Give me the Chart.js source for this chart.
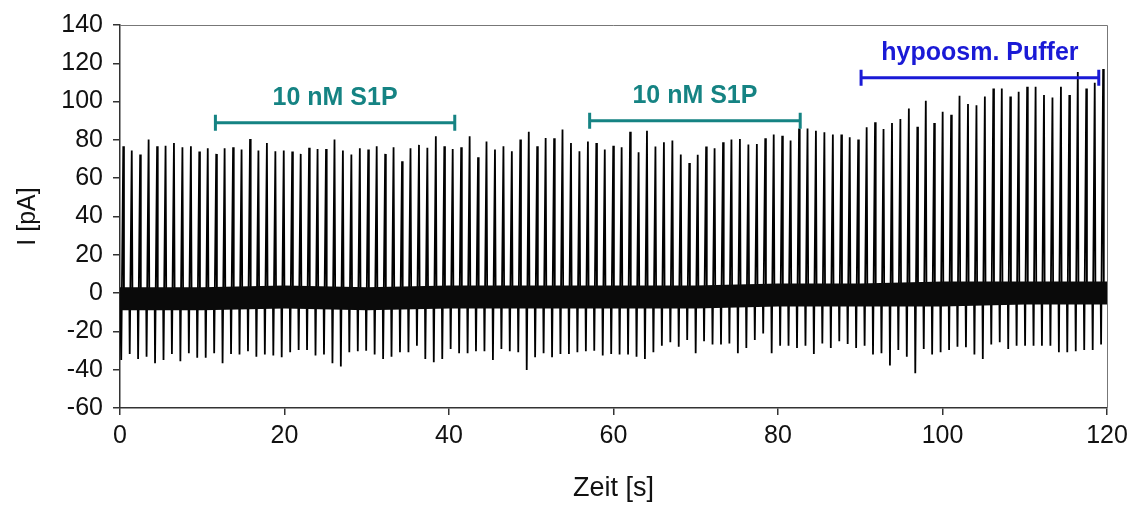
<!DOCTYPE html>
<html>
<head>
<meta charset="utf-8">
<title>I [pA] / Zeit [s]</title>
<script src="https://cdn.jsdelivr.net/npm/chart.js@4.4.0/dist/chart.umd.min.js"></script>
<style>
  html, body { margin: 0; padding: 0; background: #fff; }
</style>
</head>
<body>
<canvas id="spikeChart" width="1138" height="506"></canvas>
<script>
// Zeitpunkte der Spikes (s), Spitzenwert und Minimum (pA)
var spikeTimes = [
  0.40, 1.43, 2.45, 3.48, 4.51, 5.54, 6.56, 7.59, 8.62, 9.64,
  10.67, 11.70, 12.72, 13.75, 14.78, 15.81, 16.83, 17.86, 18.89, 19.91,
  20.94, 21.97, 22.99, 24.02, 25.05, 26.08, 27.10, 28.13, 29.16, 30.18,
  31.21, 32.24, 33.26, 34.29, 35.32, 36.35, 37.37, 38.40, 39.43, 40.45,
  41.48, 42.51, 43.53, 44.56, 45.59, 46.62, 47.64, 48.67, 49.70, 50.72,
  51.75, 52.78, 53.80, 54.83, 55.86, 56.89, 57.91, 58.94, 59.97, 60.99,
  62.02, 63.05, 64.07, 65.10, 66.13, 67.16, 68.18, 69.21, 70.24, 71.26,
  72.29, 73.32, 74.34, 75.37, 76.40, 77.43, 78.45, 79.48, 80.51, 81.53,
  82.56, 83.59, 84.61, 85.64, 86.67, 87.70, 88.72, 89.75, 90.78, 91.80,
  92.83, 93.86, 94.88, 95.91, 96.94, 97.97, 98.99, 100.02, 101.05, 102.07,
  103.10, 104.13, 105.15, 106.18, 107.21, 108.24, 109.26, 110.29, 111.32, 112.34,
  113.37, 114.40, 115.42, 116.45, 117.48, 118.51, 119.53
];
var spikePeaks = [
  76.7, 74.5, 72.4, 80.2, 76.7, 77, 78.4, 76.2, 76.7, 74,
  75.7, 72.7, 75.7, 76.2, 75, 80.5, 74.5, 78.4, 74.1, 74.5,
  74, 72.7, 75.9, 75.3, 75.3, 80.2, 74.5, 72.4, 75.7, 75,
  76.7, 72.7, 76.2, 68.8, 75.7, 77.4, 75.9, 81.9, 76.7, 75.3,
  76.2, 81.9, 71, 79.1, 75, 76.7, 74.1, 80.2, 84.3, 76.7,
  81, 80.9, 85.4, 78.4, 74.1, 79.1, 78.4, 75, 77, 76.2,
  84.3, 73.6, 84.8, 76.5, 78.8, 79.7, 72.4, 67.9, 72.2, 76.5,
  75.7, 78.8, 80.2, 80.5, 77.6, 77.9, 80.9, 82.8, 82.2, 79.7,
  86, 86, 84.8, 84, 82.8, 82.8, 81.4, 80.2, 86.6, 89.2,
  85.7, 88.8, 90.9, 96.4, 86.9, 100.4, 88.8, 94.7, 93.1, 103,
  98.7, 98.1, 102.6, 106.8, 106.8, 102.6, 105.2, 107.8, 107.8, 103.5,
  102.1, 107.8, 103.5, 115.4, 106.9, 109.9, 117
];
var spikeTroughs = [
  -34.9, -31.8, -34.4, -33.2, -36.6, -34.9, -31.8, -35.6, -31.4, -33.8,
  -33.8, -31.4, -36.6, -31.8, -32.1, -30.4, -33.2, -32.1, -32.6, -33.5,
  -30.9, -29.7, -29.7, -32.6, -32.1, -36.6, -38.3, -30.9, -30.4, -30.1,
  -32.1, -34.4, -33.2, -30.9, -30.9, -27.5, -34.4, -36.1, -34.4, -29.2,
  -31.4, -31.4, -30.4, -30.4, -34.9, -29.2, -30.4, -30.9, -40.1, -33.5,
  -31.4, -33.5, -31.8, -31.8, -30.9, -30.4, -30.1, -32.6, -31.8, -32.1,
  -32.1, -33.2, -34.4, -30.9, -27.5, -25.7, -28, -24.5, -31.4, -25.2,
  -26.9, -26.9, -26.3, -31.4, -28.7, -24.5, -21.1, -31.4, -27.5, -27.5,
  -28.7, -27.5, -31.8, -26.3, -28.7, -25.2, -26.6, -28.7, -27.5, -32.1,
  -31.4, -37.8, -29.7, -33.2, -41.8, -29.2, -32.1, -30.9, -29.7, -28,
  -28.3, -32.1, -34.4, -26.9, -25.7, -29.2, -27.5, -27.5, -27.5, -27.5,
  -27.5, -30.9, -30.9, -30.4, -29.7, -29.7, -26.9
];

// Rauschband um die Nulllinie (obere / untere Grenze)
var bandTimes = [0, 10, 20, 30, 40, 50, 60, 70, 80, 90, 100, 110, 120];
var bandUpper = [3, 3, 4, 3, 4, 4, 4, 4, 5, 5, 6, 6, 6];
var bandLower = [-9, -9, -8, -9, -8, -8, -8, -8, -7, -7, -7, -6, -6];

// Balken fuer die Applikationen
var barLabels = ['10 nM S1P', '10 nM S1P', 'hypoosm. Puffer'];
var barStart = [11.6, 57.1, 90.1];
var barEnd = [40.7, 82.7, 119.0];
var barLevel = [89, 90, 112.5];
var barColors = ['#158383', '#158383', '#1a1ad6'];

var FONT = "'Liberation Sans', Arial, sans-serif";

//----------------------------------------------------------------------
// Spur zusammenbauen: Minimum -> Spitze -> zurueck auf Null
var trace = [{x: 0, y: 0}];
for (var i = 0; i < spikeTimes.length; i++) {
  var t = spikeTimes[i];
  trace.push({x: t - 0.3, y: 0});
  trace.push({x: t - 0.25, y: spikeTroughs[i]});
  trace.push({x: t, y: spikePeaks[i]});
  trace.push({x: t + 0.08, y: 0});
}
trace.push({x: 120, y: 0});

var upper = [], lower = [];
for (var j = 0; j < bandTimes.length; j++) {
  upper.push({x: bandTimes[j], y: bandUpper[j]});
  lower.push({x: bandTimes[j], y: bandLower[j]});
}

// Rahmen oben und rechts
var framePlugin = {
  id: 'frame',
  afterDraw: function(chart) {
    var a = chart.chartArea, ctx = chart.ctx;
    ctx.save();
    ctx.strokeStyle = '#777';
    ctx.lineWidth = 1;
    ctx.beginPath();
    ctx.moveTo(a.left, a.top + 0.5);
    ctx.lineTo(a.right + 0.5, a.top + 0.5);
    ctx.lineTo(a.right + 0.5, a.bottom);
    ctx.stroke();
    ctx.restore();
  }
};

// Balken mit Endstrichen und Beschriftung
var barPlugin = {
  id: 'bars',
  afterDatasetsDraw: function(chart) {
    var ctx = chart.ctx, xs = chart.scales.x, ys = chart.scales.y;
    ctx.save();
    for (var k = 0; k < barLabels.length; k++) {
      var x0 = xs.getPixelForValue(barStart[k]);
      var x1 = xs.getPixelForValue(barEnd[k]);
      var y = ys.getPixelForValue(barLevel[k]);
      ctx.strokeStyle = barColors[k];
      ctx.lineWidth = 3;
      ctx.beginPath();
      ctx.moveTo(x0, y); ctx.lineTo(x1, y);
      ctx.moveTo(x0, y - 8); ctx.lineTo(x0, y + 8);
      ctx.moveTo(x1, y - 8); ctx.lineTo(x1, y + 8);
      ctx.stroke();
      ctx.fillStyle = barColors[k];
      ctx.font = 'bold 25px ' + FONT;
      ctx.textAlign = 'center';
      ctx.textBaseline = 'middle';
      ctx.fillText(barLabels[k], (x0 + x1) / 2, y - 25);
    }
    ctx.restore();
  }
};

var ctx = document.getElementById('spikeChart').getContext('2d');
var spikeChart = new Chart(ctx, {
  type: 'line',
  data: {
    datasets: [
      {
        data: upper,
        borderWidth: 0,
        pointRadius: 0,
        backgroundColor: '#0a0a0a',
        fill: '+1'
      },
      {
        data: lower,
        borderWidth: 0,
        pointRadius: 0,
        fill: false
      },
      {
        data: trace,
        borderColor: '#000',
        borderWidth: 1.8,
        pointRadius: 0,
        tension: 0,
        fill: false
      }
    ]
  },
  options: {
    responsive: false,
    animation: false,
    layout: { padding: { left: 0, right: 31, top: 22, bottom: 0 } },
    plugins: {
      legend: { display: false },
      tooltip: { enabled: false }
    },
    scales: {
      x: {
        type: 'linear',
        min: 0,
        max: 120,
        afterFit: function(scale) { scale.height = 98; },
        ticks: { stepSize: 20, color: '#111', padding: 6, font: { family: FONT, size: 25 } },
        grid: { drawOnChartArea: false, drawTicks: true, tickLength: 7, color: '#333', lineWidth: 1.5 },
        border: { display: true, color: '#333', width: 1.5 },
        title: { display: true, text: 'Zeit [s]', color: '#111', padding: { bottom: 1 }, font: { family: FONT, size: 27 } }
      },
      y: {
        min: -60,
        max: 140,
        afterFit: function(scale) { scale.width = 120; },
        ticks: { stepSize: 20, color: '#111', padding: 10, font: { family: FONT, size: 25 } },
        grid: { drawOnChartArea: false, drawTicks: true, tickLength: 7, color: '#333', lineWidth: 1.5 },
        border: { display: true, color: '#333', width: 1.5 },
        title: { display: true, text: 'I [pA]', color: '#111', padding: { top: 13 }, font: { family: FONT, size: 25 } }
      }
    }
  },
  plugins: [framePlugin, barPlugin]
});
</script>
</body>
</html>
